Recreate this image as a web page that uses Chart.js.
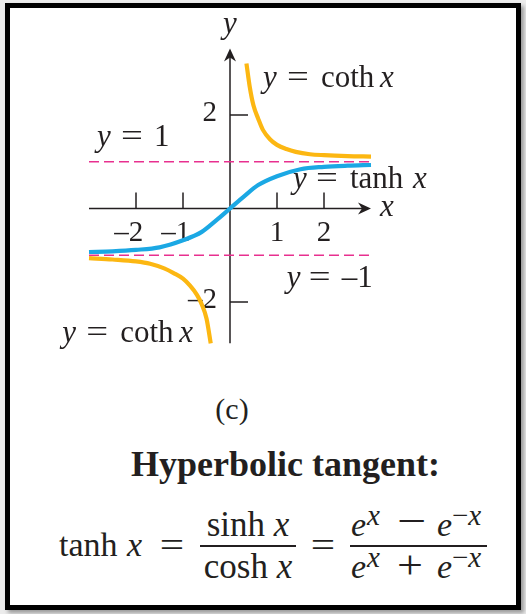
<!DOCTYPE html>
<html>
<head>
<meta charset="utf-8">
<title>Hyperbolic tangent</title>
<script src="https://cdn.jsdelivr.net/npm/chart.js@4.4.1/dist/chart.umd.min.js"></script>
<style>
  html, body { margin: 0; padding: 0; }
  body {
    width: 526px; height: 614px; position: relative; overflow: hidden;
    background: #ececec;
    font-family: "Liberation Serif", "Times New Roman", serif;
    color: #231f20;
  }
  #frame {
    position: absolute; left: 5px; top: 3px; width: 506px; height: 597px;
    border: 5px solid #000; background: #fff;
    box-shadow: 3px 3px 4px rgba(0, 0, 0, 0.35);
  }
  #plot { position: absolute; left: 0; top: 0; }
  .t { position: absolute; white-space: nowrap; line-height: 1; }
  .bar { position: absolute; height: 2px; background: #231f20; }
</style>
</head>
<body>
<div id="frame"></div>
<canvas id="plot" width="526" height="370"></canvas>
<script>
// sampled curves (x, y)
const tanhX = [-3, -2.5, -2, -1.5, -1, -0.6, -0.3, 0, 0.3, 0.6, 1, 1.5, 2, 2.5, 3];
const tanhY = [-0.93, -0.915, -0.885, -0.83, -0.68, -0.5, -0.26, 0, 0.26, 0.5, 0.69, 0.84, 0.89, 0.915, 0.93];

const cothPosX = [0.35, 0.42, 0.5, 0.6, 0.7, 0.85, 1.0, 1.2, 1.4, 1.7, 2.0, 2.5, 3.0];
const cothPosY = [3.1, 2.6, 2.2, 1.92, 1.68, 1.48, 1.36, 1.27, 1.21, 1.16, 1.14, 1.12, 1.11];

const cothNegX = [-3.0, -2.5, -2.0, -1.7, -1.4, -1.2, -1.0, -0.85, -0.7, -0.6, -0.5, -0.41];
const cothNegY = [-1.06, -1.09, -1.13, -1.18, -1.28, -1.38, -1.5, -1.65, -1.85, -2.05, -2.35, -2.88];

// horizontal asymptotes y = 1 and y = -1
const asymX = [-3, 3];
const asymUpper = [1, 1];
const asymLower = [-1, -1];

// axes and ticks
const xAxisSpan = [-3, 3];
const yAxisSpan = [-2.88, 3.42];
const xTicks = [-2, -1, 1, 2];
const yTicks = [-2, 2];

const GOLD = '#fcb712';
const BLUE = '#1ba8e4';
const PINK = '#e8308f';
const INK = '#231f20';

const pts = (xs, ys) => xs.map((v, i) => ({ x: v, y: ys[i] }));
const fmt = v => (v < 0 ? '\u2013' : '') + Math.abs(v);

// curve labels: anchor in data units, parts = [text, italic, offset px]
const cothParts = [['y', 1, 0], ['=', 0, 24], ['coth', 0, 58], ['x', 1, 117]];
const notes = [
  { at: [0.70, 2.59], parts: cothParts },
  { at: [-3.57, -2.85], parts: cothParts },
  { at: [1.34, 0.43], parts: [['y', 1, 0], ['=', 0, 23], ['tanh', 0, 57], ['x', 1, 120]] },
  { at: [-2.83, 1.34], parts: [['y', 1, 0], ['=', 0, 24], ['1', 0, 57]] },
  { at: [1.21, -1.67], parts: [['y', 1, 0], ['=', 0, 22], ['\u20131', 0, 55]] }
];

function font(size, italic) {
  return (italic ? 'italic ' : '') + size + 'px "Liberation Serif", serif';
}

function arrowHead(ctx, tx, ty, dir) {
  // dir: 'right' or 'up'
  ctx.save();
  ctx.translate(tx, ty);
  if (dir === 'up') ctx.rotate(-Math.PI / 2);
  ctx.beginPath();
  ctx.moveTo(0, 0);
  ctx.lineTo(-13, -6);
  ctx.lineTo(-9, 0);
  ctx.lineTo(-13, 6);
  ctx.closePath();
  ctx.fill();
  ctx.restore();
}

const plotDecor = {
  id: 'plotDecor',
  beforeDatasetsDraw(chart) {
    const { ctx, scales: { x, y } } = chart;
    const X = v => x.getPixelForValue(v);
    const Y = v => y.getPixelForValue(v);
    ctx.save();
    ctx.strokeStyle = INK;
    ctx.fillStyle = INK;
    ctx.lineWidth = 1.5;

    // axes
    ctx.beginPath();
    ctx.moveTo(X(xAxisSpan[0]), Y(0));
    ctx.lineTo(X(xAxisSpan[1]) - 6, Y(0));
    ctx.moveTo(X(0), Y(yAxisSpan[0]));
    ctx.lineTo(X(0), Y(yAxisSpan[1]) + 6);
    ctx.stroke();
    arrowHead(ctx, X(xAxisSpan[1]), Y(0), 'right');
    arrowHead(ctx, X(0), Y(yAxisSpan[1]), 'up');

    // tick marks
    ctx.beginPath();
    xTicks.forEach(v => { ctx.moveTo(X(v), Y(0)); ctx.lineTo(X(v), Y(0) - 16); });
    yTicks.forEach(v => { ctx.moveTo(X(0), Y(v)); ctx.lineTo(X(0) + 18, Y(v)); });
    ctx.stroke();

    // tick labels (digit centred on the tick)
    ctx.font = font(29);
    ctx.textBaseline = 'alphabetic';
    ctx.textAlign = 'right';
    const half = ctx.measureText('0').width / 2;
    xTicks.forEach(v => ctx.fillText(fmt(v), X(v) + half, Y(0) + 32));
    yTicks.forEach(v => ctx.fillText(fmt(v), X(0) - 13, Y(v) + 6));

    // axis names
    ctx.font = font(31, true);
    ctx.textAlign = 'center';
    ctx.fillText('y', X(0), Y(yAxisSpan[1]) - 15);
    ctx.textAlign = 'left';
    ctx.fillText('x', X(xAxisSpan[1]) + 9, Y(0) + 7);
    ctx.restore();
  },
  afterDatasetsDraw(chart) {
    const { ctx, scales: { x, y } } = chart;
    ctx.save();
    ctx.fillStyle = INK;
    ctx.textAlign = 'left';
    ctx.textBaseline = 'alphabetic';
    notes.forEach(n => {
      const px = x.getPixelForValue(n.at[0]);
      const py = y.getPixelForValue(n.at[1]);
      n.parts.forEach(([txt, it, dx]) => {
        if (txt === '=') {
          // wider equals sign, as in math setting
          ctx.save();
          ctx.translate(px + dx, py);
          ctx.scale(1.25, 1);
          ctx.font = font(31);
          ctx.fillText(txt, 0, 0);
          ctx.restore();
        } else {
          ctx.font = font(31, it);
          ctx.fillText(txt, px + dx, py);
        }
      });
    });
    ctx.restore();
  }
};

const curve = (xs, ys, color, order) => ({
  data: pts(xs, ys),
  showLine: true,
  borderColor: color,
  borderWidth: 4.2,
  pointRadius: 0,
  cubicInterpolationMode: 'monotone',
  order: order
});

const dashed = ys => ({
  data: pts(asymX, ys),
  showLine: true,
  borderColor: PINK,
  borderWidth: 1.6,
  borderDash: [10, 5],
  pointRadius: 0,
  order: 5
});

new Chart(document.getElementById('plot'), {
  type: 'scatter',
  data: {
    datasets: [
      dashed(asymUpper),
      dashed(asymLower),
      curve(cothPosX, cothPosY, GOLD, 2),
      curve(cothNegX, cothNegY, GOLD, 2),
      curve(tanhX, tanhY, BLUE, 1)
    ]
  },
  options: {
    responsive: false,
    animation: false,
    devicePixelRatio: 1,
    events: [],
    layout: { padding: 0 },
    plugins: { legend: { display: false }, tooltip: { enabled: false } },
    scales: {
      x: { type: 'linear', display: false, min: -230 / 47, max: 296 / 47 },
      y: { type: 'linear', display: false, min: (208.5 - 370) / 46.8, max: 208.5 / 46.8 }
    }
  },
  plugins: [plotDecor]
});

// caption and formula below the plot
function put(html, left, baseline, size, css) {
  const s = document.createElement('span');
  s.className = 't';
  s.innerHTML = html;
  s.style.fontSize = size + 'px';
  s.style.left = left + 'px';
  s.style.top = (baseline - 0.8375 * size) + 'px';
  if (css) Object.assign(s.style, css);
  document.body.appendChild(s);
  return s;
}
function bar(left, width, top) {
  const d = document.createElement('div');
  d.className = 'bar';
  Object.assign(d.style, { left: left + 'px', width: width + 'px', top: top + 'px' });
  document.body.appendChild(d);
}
const centre = { transform: 'translateX(-50%)' };
const ital = { fontStyle: 'italic' };
const wide = { transform: 'translateX(-50%) scaleX(1.2)' };

put('(c)', 232, 419, 30, centre);
put('Hyperbolic tangent:', 131, 476, 36, { fontWeight: 'bold' });

put('tanh', 59, 556.7, 34);
put('x', 127, 556.7, 34, ital);
put('=', 172, 557.5, 36, wide);

put('sinh <i>x</i>', 248, 536.7, 35, centre);
bar(200, 96, 545);
put('cosh <i>x</i>', 248, 578, 35, centre);

put('=', 323, 557.5, 36, wide);

bar(350, 137, 545);
put('e', 351, 536.7, 34, ital);
put('x', 367, 525, 29, ital);
put('\u2212', 397, 534, 40, { transform: 'scaleX(1.3)', transformOrigin: 'left' });
put('e', 437, 536.7, 34, ital);
put('\u2212<i>x</i>', 452, 525, 29);

put('e', 351, 578, 34, ital);
put('x', 367, 567, 29, ital);
put('+', 397, 578, 40, { transform: 'scaleX(1.15)', transformOrigin: 'left' });
put('e', 437, 578, 34, ital);
put('\u2212<i>x</i>', 452, 567, 29);
</script>
</body>
</html>
